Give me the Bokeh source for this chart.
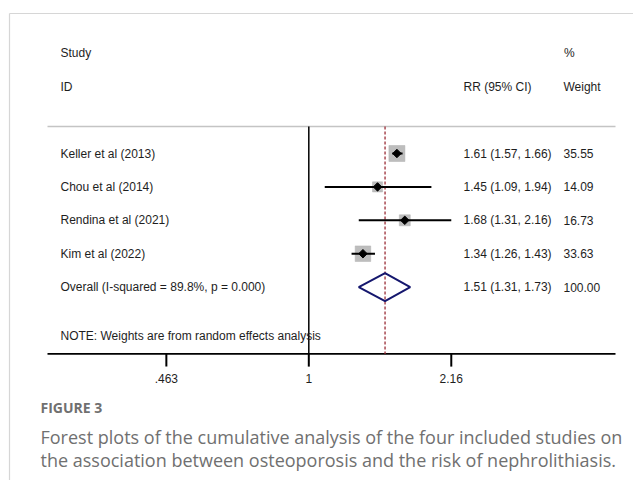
import numpy as np
from bokeh.plotting import figure
from bokeh.models import Range1d, LinearScale, ColumnDataSource
from bokeh.embed import file_html
from bokeh.resources import INLINE
from bokeh.core.properties import value

# ---------------- data ----------------
studies = ["Keller et al (2013)", "Chou et al (2014)", "Rendina et al (2021)", "Kim et al (2022)"]
rr = [1.61, 1.45, 1.68, 1.34]
lo = [1.57, 1.09, 1.31, 1.26]
hi = [1.66, 1.94, 2.16, 1.43]
weights = [35.55, 14.09, 16.73, 33.63]
overall_rr = 1.51
overall_lo = 1.31
overall_hi = 1.73
overall_weight = 100.00
overall_label = "Overall  (I-squared = 89.8%, p = 0.000)"
note = "NOTE: Weights are from random effects analysis"
tick_values = [0.463, 1, 2.16]
tick_labels = [".463", "1", "2.16"]
caption_title = "FIGURE 3"
caption_lines = ["Forest plots of the cumulative analysis of the four included studies on",
                 "the association between osteoporosis and the risk of nephrolithiasis."]

rows = list(range(len(studies)))
overall_row = len(studies)
axis_row = overall_row + 2

FONT = value("Liberation Sans")
TXT = "#1e1e1e"

p = figure(width=633, height=480, x_axis_type="log",
           x_range=Range1d(0.18890, 5.7841), y_range=Range1d(9.790, -4.581),
           x_axis_location=None, y_axis_location=None,
           output_backend="svg", toolbar_location=None, min_border=0)
p.grid.visible = False
p.outline_line_color = None
p.background_fill_color = "white"
p.border_fill_color = "white"

# pixel ranges for decorations / text columns
p.extra_x_ranges = {"px": Range1d(0, 633)}
p.extra_y_ranges = {"py": Range1d(480, 0)}
p.extra_x_scales = {"px": LinearScale()}
p.extra_y_scales = {"py": LinearScale()}

# frame border (left & top)
p.segment(x0=[9, 9], y0=[13, 13], x1=[9, 633], y1=[480, 13],
          x_range_name="px", y_range_name="py", line_color="#d6d6d6", line_width=1.2)

# header separator line
p.segment(x0=[47], y0=[-0.81], x1=[615], y1=[-0.81], x_range_name="px",
          line_color="#c4c4c4", line_width=1.6)

# x axis line
p.segment(x0=[47], y0=[axis_row], x1=[615], y1=[axis_row], x_range_name="px",
          line_color="black", line_width=1.6)
# ticks
p.segment(x0=tick_values, y0=[axis_row] * 3, x1=tick_values, y1=[axis_row + 0.38] * 3,
          line_color="black", line_width=2)
p.text(x=tick_values, y=[axis_row + 0.75] * 3, text=tick_labels, text_align="center",
       text_baseline="middle", text_font=FONT, text_font_size="12px", text_color=TXT)

# null line and overall dashed line
p.segment(x0=[1], y0=[-0.81], x1=[1], y1=[axis_row], line_color="black", line_width=1.5)
p.segment(x0=[overall_rr], y0=[-0.81], x1=[overall_rr], y1=[axis_row],
          line_color="#9a2b35", line_width=1.3, line_dash="3 2")

# weight boxes
sizes = [16 * np.sqrt(w / max(weights)) for w in weights]
src = ColumnDataSource(dict(rr=rr, lo=lo, hi=hi, y=rows, s=sizes))
p.scatter(x="rr", y="y", size="s", marker="square", source=src,
          fill_color="#bdbdbd", line_color="#b0b0b0", line_width=0.5)
p.segment(x0="lo", y0="y", x1="hi", y1="y", source=src, line_color="black", line_width=2)
p.scatter(x="rr", y="y", size=6, marker="square", angle=np.pi / 4, source=src,
          fill_color="black", line_color="black")

# overall diamond
p.patch(x=[overall_lo, overall_rr, overall_hi, overall_rr],
        y=[overall_row, overall_row - 0.42, overall_row, overall_row + 0.42],
        fill_color=None, line_color="#15176e", line_width=2)

# texts
p.text(x=[60, 60], y=[-3, -2], text=["Study", "ID"], x_range_name="px",
       text_baseline="middle", text_font=FONT, text_font_size="12px", text_color=TXT)
p.text(x=[463], y=[-2], text=["RR (95% CI)"], x_range_name="px",
       text_baseline="middle", text_font=FONT, text_font_size="12px", text_color=TXT)
p.text(x=[563.5, 563], y=[-3, -2], text=["%", "Weight"], x_range_name="px",
       text_baseline="middle", text_font=FONT, text_font_size="12px", text_color=TXT)

p.text(x=[60] * (len(studies) + 1), y=rows + [overall_row], text=studies + [overall_label],
       x_range_name="px", text_baseline="middle", text_font=FONT,
       text_font_size="12px", text_color=TXT)
rr_txt = [f"{a:.2f} ({b:.2f}, {c:.2f})" for a, b, c in zip(rr, lo, hi)]
rr_txt.append(f"{overall_rr:.2f} ({overall_lo:.2f}, {overall_hi:.2f})")
w_txt = [f"{w:.2f}" for w in weights] + [f"{overall_weight:.2f}"]
p.text(x=[463] * len(rr_txt), y=rows + [overall_row], text=rr_txt, x_range_name="px",
       text_baseline="middle", text_font=FONT, text_font_size="12px", text_color=TXT)
p.text(x=[563] * len(w_txt), y=rows + [overall_row], text=w_txt, x_range_name="px",
       text_baseline="middle", text_font=FONT, text_font_size="12px", text_color=TXT)
p.text(x=[60], y=[overall_row + 1.45], text=[note], x_range_name="px",
       text_baseline="middle", text_font=FONT, text_font_size="12px", text_color=TXT)

# caption
p.text(x=[40], y=[407], text=[caption_title], x_range_name="px", y_range_name="py",
       text_baseline="middle", text_font=value("Open Sans"), text_font_size="14px",
       text_font_style="bold", text_color="#707070")
p.text(x=[40, 40], y=[436, 459], text=caption_lines, x_range_name="px", y_range_name="py",
       text_baseline="middle", text_font=value("Open Sans"), text_font_size="18px",
       text_color="#707070")

open("out.html", "w").write(file_html(p, INLINE))
